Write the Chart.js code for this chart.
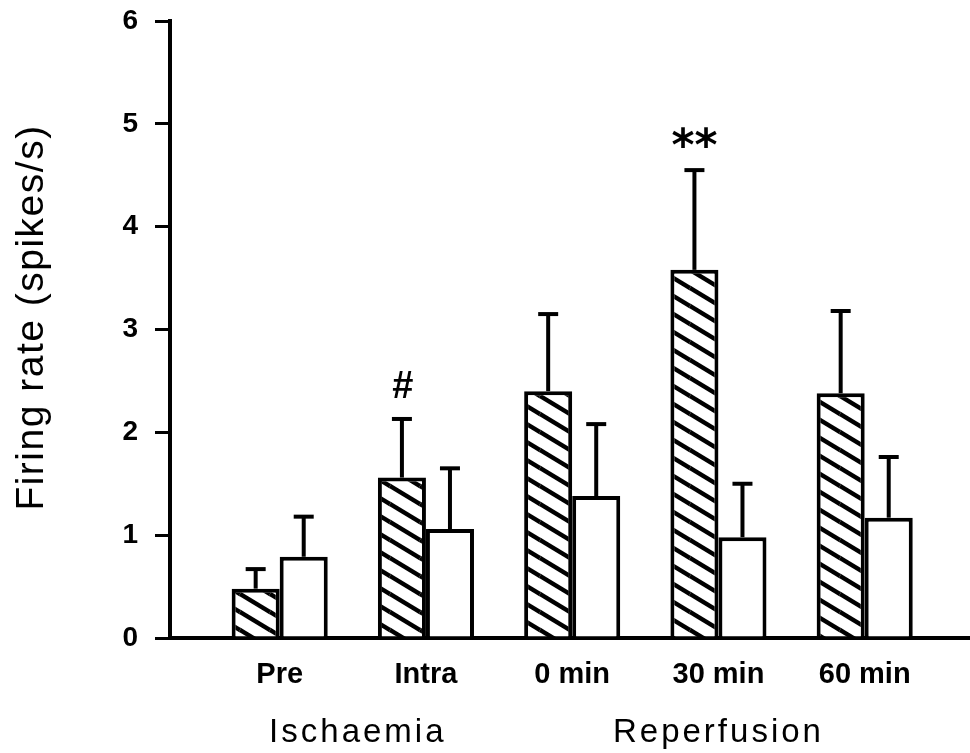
<!DOCTYPE html>
<html><head><meta charset="utf-8">
<script src="https://cdn.jsdelivr.net/npm/chart.js@4/dist/chart.umd.min.js"></script>
<style>html,body{margin:0;padding:0;background:#fff;}#wrap{width:970px;height:753px;position:relative;}</style>
</head><body><div id="wrap"><canvas id="c" width="970" height="753" style="width:970px;height:753px"></canvas></div>
<script>
const categories = ['Pre', 'Intra', '0 min', '30 min', '60 min'];
const hatchedMean = [0.48, 1.56, 2.40, 3.58, 2.38];
const hatchedErr  = [0.19, 0.57, 0.75, 0.97, 0.80];
const openMean    = [0.79, 1.06, 1.38, 0.98, 1.17];
const openErr     = [0.39, 0.59, 0.70, 0.52, 0.59];
const hatchedSig  = ['', '#', '', '**', ''];
const yTicks      = [0, 1, 2, 3, 4, 5, 6];
const groupNames  = ['Ischaemia', 'Reperfusion'];
const groupFirst  = [0, 2];
const groupLast   = [1, 4];
const yTitle = 'Firing rate (spikes/s)';

function makeHatch() {
  const W = 30, H = 18;
  const t = document.createElement('canvas');
  t.width = W; t.height = H;
  const g = t.getContext('2d');
  g.fillStyle = '#fff'; g.fillRect(0, 0, W, H);
  g.strokeStyle = '#000'; g.lineWidth = 4.5;
  for (const [dx, dy] of [[0,0],[-W,0],[W,0],[0,-H],[0,H],[-W,-H],[W,H]]) {
    g.beginPath(); g.moveTo(dx, dy); g.lineTo(dx + W, dy + H); g.stroke();
  }
  return document.createElement('canvas').getContext('2d').createPattern(t, 'repeat');
}

const errs = [hatchedErr, openErr];
const means = [hatchedMean, openMean];

const extras = {
  id: 'extras',
  afterDatasetsDraw(chart) {
    const ctx = chart.ctx, ys = chart.scales.y, xs = chart.scales.x;
    ctx.save();
    ctx.strokeStyle = '#000'; ctx.lineWidth = 4; ctx.lineCap = 'butt';
    for (let d = 0; d < 2; d++) {
      const meta = chart.getDatasetMeta(d);
      meta.data.forEach((bar, i) => {
        const top = ys.getPixelForValue(means[d][i] + errs[d][i]);
        ctx.beginPath(); ctx.moveTo(bar.x, bar.y); ctx.lineTo(bar.x, top); ctx.stroke();
        ctx.beginPath(); ctx.moveTo(bar.x - 10, top); ctx.lineTo(bar.x + 10, top); ctx.stroke();
      });
    }
    ctx.fillStyle = '#000'; ctx.textAlign = 'center'; ctx.textBaseline = 'middle';
    const hm = chart.getDatasetMeta(0);
    hatchedSig.forEach((s, i) => {
      if (!s) return;
      const top = ys.getPixelForValue(hatchedMean[i] + hatchedErr[i]);
      if (s === '#') { ctx.font = 'bold 38px "Liberation Sans"'; ctx.fillText(s, hm.data[i].x + 1, top - 31); }
      else { ctx.font = 'bold 44px "DejaVu Sans"'; ctx.fillText(s, hm.data[i].x, top - 22); }
    });
    ctx.textBaseline = 'alphabetic';
    ctx.font = '33px "Liberation Sans"';
    ctx.letterSpacing = '3px';
    groupNames.forEach((n, k) => {
      const x = (xs.getPixelForValue(groupFirst[k]) + xs.getPixelForValue(groupLast[k])) / 2;
      ctx.fillText(n, x + (k === 0 ? 5 : 0), 742);
    });
    ctx.font = '39px "Liberation Sans"';
    ctx.letterSpacing = '1.5px';
    ctx.translate(43, (ys.top + ys.bottom) / 2 - 12);
    ctx.rotate(-Math.PI / 2);
    ctx.fillText(yTitle, 0, 0);
    ctx.restore();
  }
};

const hatch = makeHatch();
new Chart(document.getElementById('c'), {
  type: 'bar',
  data: {
    datasets: [
      { data: hatchedMean.map((v, i) => ({x: i, y: v})), backgroundColor: hatch, borderColor: '#000', borderWidth: 4, borderSkipped: 'start' },
      { data: openMean.map((v, i) => ({x: i, y: v})), backgroundColor: '#fff', borderColor: '#000', borderWidth: 4, borderSkipped: 'start' }
    ]
  },
  options: {
    responsive: false, animation: false, devicePixelRatio: 1,
    layout: { padding: { top: 21, right: 0, left: 0, bottom: 0 } },
    plugins: { legend: { display: false }, tooltip: { enabled: false } },
    datasets: { bar: { categoryPercentage: 0.657, barPercentage: 1 } },
    scales: {
      x: {
        type: 'linear', min: -0.75, max: 4.72, offset: false,
        afterBuildTicks: s => { s.ticks = categories.map((_, i) => ({ value: i })); },
        afterFit: s => { s.height = 115; s.paddingLeft = 0; s.paddingRight = 0; },
        grid: { display: false, drawTicks: false },
        border: { display: true, color: '#000', width: 4 },
        ticks: { padding: 20, color: '#000', font: { family: 'Liberation Sans', size: 29, weight: 'bold' },
          callback: v => categories[v] ?? '', maxRotation: 0, autoSkip: false }
      },
      y: {
        min: 0, max: 6,
        afterBuildTicks: s => { s.ticks = yTicks.map(v => ({ value: v })); },
        afterFit: s => { s.width = 170; s.paddingTop = 0; s.paddingBottom = 0; },
        grid: { drawOnChartArea: false, drawTicks: true, tickLength: 15, color: '#000', lineWidth: 3 },
        border: { display: true, color: '#000', width: 4 },
        ticks: { padding: 17, color: '#000', font: { family: 'Liberation Sans', size: 28, weight: 'bold' } },
        title: { display: false }
      }
    }
  },
  plugins: [extras]
});
</script></body></html>
